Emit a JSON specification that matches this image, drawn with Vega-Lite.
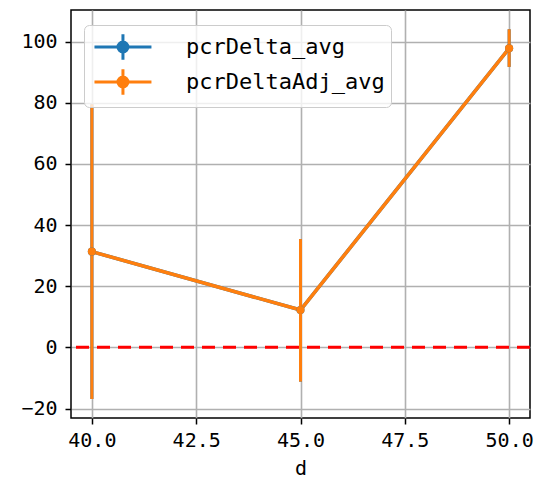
{
  "$schema": "https://vega.github.io/schema/vega-lite/v6.json",
  "width": 459,
  "height": 408,
  "autosize": {"type": "none"},
  "padding": {"left": 71, "top": 10, "right": 8, "bottom": 70},
  "background": "white",
  "config": {
    "font": "DejaVu Sans Mono",
    "view": {"stroke": "black", "strokeWidth": 1.5},
    "axis": {
      "domain": false,
      "grid": true,
      "gridColor": "#b0b0b0",
      "gridWidth": 1.6,
      "tickColor": "black",
      "tickWidth": 1.5,
      "tickSize": 6,
      "labelFont": "DejaVu Sans Mono",
      "labelFontSize": 20,
      "labelColor": "black",
      "titleFont": "DejaVu Sans Mono",
      "titleFontSize": 20,
      "titleFontWeight": "normal",
      "titleColor": "black"
    }
  },
  "data": {
    "values": [
      {"d": 40, "series": "pcrDelta_avg", "val": 31.3, "lo": -16.9, "hi": 79.5},
      {"d": 45, "series": "pcrDelta_avg", "val": 12.2, "lo": -11.2, "hi": 35.4},
      {"d": 50, "series": "pcrDelta_avg", "val": 97.8, "lo": 91.7, "hi": 104.0},
      {"d": 40, "series": "pcrDeltaAdj_avg", "val": 31.3, "lo": -16.9, "hi": 79.5},
      {"d": 45, "series": "pcrDeltaAdj_avg", "val": 12.2, "lo": -11.2, "hi": 35.4},
      {"d": 50, "series": "pcrDeltaAdj_avg", "val": 97.8, "lo": 91.7, "hi": 104.0}
    ]
  },
  "layer": [
    {
      "mark": {"type": "rule", "strokeWidth": 3},
      "encoding": {
        "x": {
          "field": "d",
          "type": "quantitative",
          "scale": {"domain": [39.5, 50.5], "nice": false, "zero": false},
          "axis": {"values": [40, 42.5, 45, 47.5, 50], "format": ".1f", "labelPadding": 6, "title": "d", "titlePadding": 8}
        },
        "y": {"field": "lo", "type": "quantitative",
          "scale": {"domain": [-23.1, 110.3], "nice": false, "zero": false},
          "axis": {"values": [-20, 0, 20, 40, 60, 80, 100], "format": "d", "labelPadding": 8, "title": null}},
        "y2": {"field": "hi"},
        "color": {"field": "series", "type": "nominal",
          "scale": {"domain": ["pcrDelta_avg", "pcrDeltaAdj_avg"], "range": ["#1f77b4", "#ff7f0e"]},
          "legend": {
            "title": null,
            "orient": "none",
            "legendX": 13,
            "legendY": 15,
            "fillColor": "rgba(255,255,255,0.8)",
            "strokeColor": "#cccccc",
            "cornerRadius": 5,
            "padding": 6,
            "symbolType": "M-0.81,0H3.19M1.19,-0.9V0.9M1.54,0A0.35,0.35 0 1 1 0.84,0A0.35,0.35 0 1 1 1.54,0",
            "symbolSize": 812,
            "symbolStrokeWidth": 3,
            "labelFont": "DejaVu Sans Mono",
            "labelFontSize": 22,
            "labelColor": "black",
            "labelOffset": 64,
            "rowPadding": -6,
            "labelLimit": 400
          }}
      }
    },
    {
      "mark": {"type": "line", "strokeWidth": 3.5},
      "encoding": {
        "x": {"field": "d", "type": "quantitative"},
        "y": {"field": "val", "type": "quantitative"},
        "color": {"field": "series", "type": "nominal"}
      }
    },
    {
      "mark": {"type": "point", "filled": true, "opacity": 1, "shape": "circle", "size": 65},
      "encoding": {
        "x": {"field": "d", "type": "quantitative"},
        "y": {"field": "val", "type": "quantitative"},
        "color": {"field": "series", "type": "nominal"}
      }
    },
    {
      "data": {"values": [{"y0": 0}]},
      "mark": {"type": "rule", "color": "red", "strokeWidth": 3, "strokeDash": [13, 8]},
      "encoding": {"y": {"field": "y0", "type": "quantitative"}}
    }
  ]
}
